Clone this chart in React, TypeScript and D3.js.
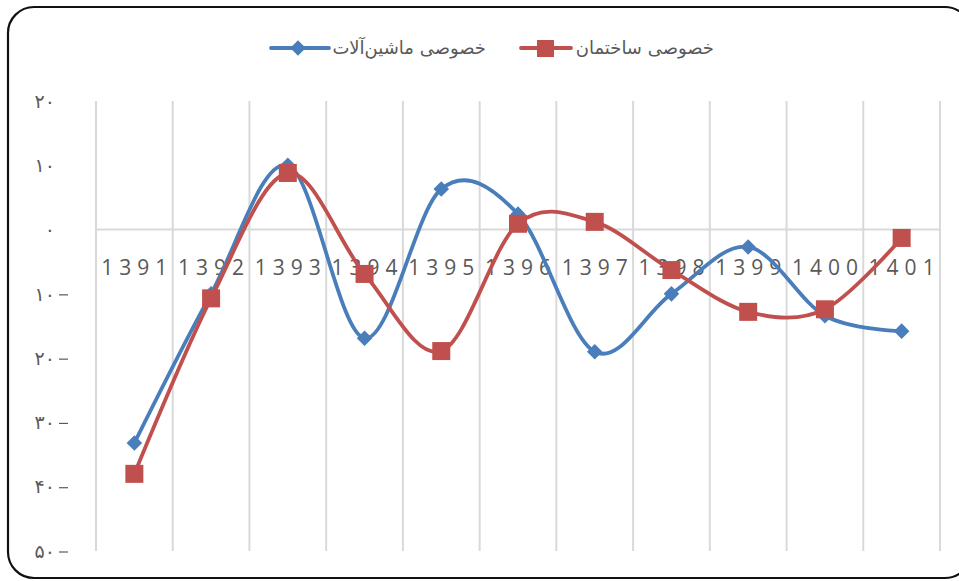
import * as d3 from 'd3'

const years = ['1391', '1392', '1393', '1394', '1395', '1396', '1397', '1398', '1399', '1400', '1401']
const machinery = [-33.2, -10.0, 10.0, -16.9, 6.3, 2.4, -19.0, -10.0, -2.7, -13.4, -15.8]
const construction = [-38.0, -10.7, 8.8, -6.9, -18.9, 0.9, 1.2, -6.3, -12.8, -12.4, -1.3]
const yTicks = [20, 10, 0, -10, -20, -30, -40, -50]
const legendMachinery = 'خصوصی ماشین\u200cآلات'
const legendConstruction = 'خصوصی ساختمان'

const BLUE = '#4a7ebb'
const RED = '#c0504d'
const GRAY_TEXT = '#595959'

const toPersian = (n: number) =>
  String(Math.abs(n)).replace(/\d/g, (d) => '۰۱۲۳۴۵۶۷۸۹'[+d])

const App = () => {
  const width = 959
  const height = 581

  const x = d3.scaleBand<string>().domain(years).range([96, 940]).padding(0)
  const y = d3.scaleLinear().domain([-50, 20]).range([551, 101])
  const cx = (year: string) => (x(year) ?? 0) + x.bandwidth() / 2

  const line = d3
    .line<number>()
    .x((_, i) => cx(years[i]))
    .y((d) => y(d))
    .curve(d3.curveCardinal.tension(0))

  const gridXs = [...years.map((yr) => x(yr) ?? 0), 940]

  return (
    <svg width={width} height={height} style={{ position: 'absolute', left: 0, top: 0 }}>
      <rect x={0} y={0} width={width} height={height} fill="#fff" />
      <rect x={8} y={7} width={963} height={571} rx={26} fill="#fff" stroke="#111" strokeWidth={2.2} />

      {/* vertical gridlines */}
      {gridXs.map((gx) => (
        <line key={gx} x1={gx} x2={gx} y1={y(20)} y2={y(-50)} stroke="#d9d9d9" strokeWidth={2} />
      ))}
      {/* zero line */}
      <line x1={96} x2={940} y1={y(0)} y2={y(0)} stroke="#d9d9d9" strokeWidth={2} />

      {/* y axis labels */}
      {yTicks.map((t) => (
        <g key={t} fill={GRAY_TEXT} fontFamily="DejaVu Sans" fontSize={19}>
          <text x={55} y={y(t)} dy="0.35em" textAnchor="end">
            {toPersian(t)}
          </text>
          {t < 0 && (
            <line x1={59} x2={68} y1={y(t) + 1} y2={y(t) + 1} stroke={GRAY_TEXT} strokeWidth={1.2} />
          )}
        </g>
      ))}

      {/* category labels */}
      {years.map((yr) => (
        <text
          key={yr}
          x={cx(yr) + 3}
          y={275}
          textAnchor="middle"
          fill={GRAY_TEXT}
          fontFamily="Open Sans"
          fontSize={21}
          letterSpacing={6}
        >
          {yr}
        </text>
      ))}

      {/* series */}
      <path d={line(machinery) ?? ''} fill="none" stroke={BLUE} strokeWidth={3.8} />
      <path d={line(construction) ?? ''} fill="none" stroke={RED} strokeWidth={3.8} />
      {machinery.map((v, i) => (
        <rect
          key={`m${i}`}
          x={-5.5}
          y={-5.5}
          width={11}
          height={11}
          fill={BLUE}
          transform={`translate(${cx(years[i])},${y(v)}) rotate(45)`}
        />
      ))}
      {construction.map((v, i) => (
        <rect key={`c${i}`} x={cx(years[i]) - 9} y={y(v) - 9} width={18} height={18} fill={RED} />
      ))}

      {/* legend */}
      <g fontFamily="DejaVu Sans" fontSize={18} fill={GRAY_TEXT}>
        <line x1={271} x2={329} y1={48} y2={48} stroke={BLUE} strokeWidth={3.8} strokeLinecap="round" />
        <rect x={-5.5} y={-5.5} width={11} height={11} fill={BLUE} transform="translate(298,48) rotate(45)" />
        <text x={486} y={48} dy="0.35em" textAnchor="end">
          {legendMachinery}
        </text>
        <line x1={521} x2={571} y1={48} y2={48} stroke={RED} strokeWidth={3.8} strokeLinecap="round" />
        <rect x={537} y={40} width={17} height={17} fill={RED} />
        <text x={714} y={48} dy="0.35em" textAnchor="end">
          {legendConstruction}
        </text>
      </g>
    </svg>
  )
}

export default App
